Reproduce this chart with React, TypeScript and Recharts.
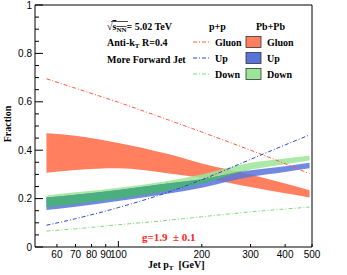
import React from 'react';
import {
  ComposedChart,
  Area,
  Line,
  XAxis,
  YAxis,
  ReferenceArea,
} from 'recharts';

// jet pT sample points (GeV)
const PT = [55, 70, 100, 150, 200, 300, 400, 490];

// p+p fractions
const GLUON_PP = [0.695, 0.656, 0.598, 0.527, 0.475, 0.4, 0.344, 0.303];
const UP_PP = [0.09, 0.117, 0.163, 0.225, 0.278, 0.362, 0.422, 0.463];
const DOWN_PP = [0.066, 0.075, 0.092, 0.11, 0.125, 0.145, 0.157, 0.165];

// Pb+Pb bands [low, high]
const GLUON_LO = [0.307, 0.318, 0.325, 0.305, 0.285, 0.248, 0.222, 0.205];
const GLUON_HI = [0.47, 0.46, 0.43, 0.385, 0.345, 0.3, 0.262, 0.235];
const UP_LO = [0.153, 0.166, 0.19, 0.22, 0.245, 0.29, 0.31, 0.325];
const UP_HI = [0.205, 0.216, 0.236, 0.262, 0.28, 0.317, 0.334, 0.348];
const DOWN_LO = [0.165, 0.178, 0.2, 0.232, 0.262, 0.32, 0.342, 0.357];
const DOWN_HI = [0.213, 0.226, 0.245, 0.273, 0.3, 0.348, 0.366, 0.377];

const X_TICKS = [60, 70, 80, 90, 100, 200, 300, 400, 500];
const Y_TICKS = [
  0, 0.05, 0.1, 0.15, 0.2, 0.25, 0.3, 0.35, 0.4, 0.45, 0.5, 0.55, 0.6, 0.65,
  0.7, 0.75, 0.8, 0.85, 0.9, 0.95, 1,
];
const Y_LABELS = [0, 0.2, 0.4, 0.6, 0.8, 1];

const data = PT.map((pt, i) => {
  const ovLo = Math.max(DOWN_LO[i], UP_LO[i]);
  const ovHi = Math.max(ovLo, Math.min(DOWN_HI[i], UP_HI[i]));
  return {
    pt,
    gPP: GLUON_PP[i],
    uPP: UP_PP[i],
    dPP: DOWN_PP[i],
    g: [GLUON_LO[i], GLUON_HI[i]],
    u: [UP_LO[i], UP_HI[i]],
    d: [DOWN_LO[i], DOWN_HI[i]],
    ov: [ovLo, ovHi],
  };
});

const SANS = 'Liberation Sans, Arial, sans-serif';
const SERIF = 'Liberation Serif, Times New Roman, serif';

const C_GLUON = '#ff7f5f';
const C_UP = '#5874da';
const C_DOWN = '#9be596';
const C_OVERLAP = '#4caf7f';

function XTick({ x, y, payload }: any) {
  const v = payload.value;
  const len = v === 100 ? 6 : 3;
  return (
    <g>
      <line x1={x} x2={x} y1={y} y2={y - len} stroke="#000" />
      <text x={x} y={y + 11} textAnchor="middle" fontSize={10} fontFamily={SANS}>
        {v}
      </text>
    </g>
  );
}

function YTickLeft({ x, y, payload }: any) {
  const v = payload.value;
  const major = Y_LABELS.some((m) => Math.abs(m - v) < 1e-6);
  return (
    <g>
      <line x1={x} x2={x + (major ? 8 : 4)} y1={y} y2={y} stroke="#000" />
      {major && (
        <text x={x - 3} y={y + 3.5} textAnchor="end" fontSize={10} fontFamily={SANS}>
          {v}
        </text>
      )}
    </g>
  );
}

function YTickRight({ x, y, payload }: any) {
  const v = payload.value;
  const major = Y_LABELS.some((m) => Math.abs(m - v) < 1e-6);
  return <line x1={x} x2={x - (major ? 8 : 4)} y1={y} y2={y} stroke="#000" />;
}

function Overlay() {
  const t = { fontFamily: SERIF, fontWeight: 700, fontSize: 10 } as const;
  const rows = [
    { name: 'Gluon', line: '#ff5a3a', box: C_GLUON, y: 42 },
    { name: 'Up', line: '#2a48d0', box: C_UP, y: 58 },
    { name: 'Down', line: '#7fdd7a', box: C_DOWN, y: 74 },
  ];
  return (
    <svg
      width={347}
      height={275}
      style={{ position: 'absolute', left: 0, top: 0, pointerEvents: 'none' }}
    >
      <text x={107} y={30} {...t}>
        √<tspan textDecoration="overline">s</tspan>
        <tspan fontSize={7} dy={2} textDecoration="overline">NN</tspan>
        <tspan dy={-2}>= 5.02 TeV</tspan>
      </text>
      <line x1={111} x2={128} y1={21.5} y2={21.5} stroke="#000" strokeWidth={0.7} />
      <text x={107} y={46} {...t}>
        Anti-k<tspan fontSize={7} dy={2}>T</tspan>
        <tspan dy={-2}> R=0.4</tspan>
      </text>
      <text x={107} y={63} {...t}>
        More Forward Jet
      </text>
      <text x={209} y={30} {...t}>p+p</text>
      <text x={256} y={30} {...t}>Pb+Pb</text>
      {rows.map((r) => (
        <g key={r.name}>
          <line
            x1={193}
            x2={210}
            y1={r.y}
            y2={r.y}
            stroke={r.line}
            strokeDasharray="4 2 1 2"
          />
          <text x={215} y={r.y + 3.5} {...t}>{r.name}</text>
          <rect x={246} y={r.y - 5.5} width={15} height={11} fill={r.box} stroke="#333" strokeWidth={0.8} />
          <text x={267} y={r.y + 3.5} {...t}>{r.name}</text>
        </g>
      ))}
      <text x={142} y={241} fontFamily={SERIF} fontWeight={700} fontSize={11} fill="#ff2020">
        {'g=1.9\u00a0\u00a0± 0.1'}
      </text>
      <text x={148} y={268} {...t}>
        Jet p<tspan fontSize={7} dy={2}>T</tspan>
        <tspan dy={-2}>{'\u00a0\u00a0[GeV]'}</tspan>
      </text>
      <text
        x={11}
        y={124}
        {...t}
        textAnchor="middle"
        transform="rotate(-90 11 124)"
      >
        Fraction
      </text>
    </svg>
  );
}

export default function App() {
  return (
    <div style={{ position: 'absolute', left: 0, top: 0, width: 347, height: 275, background: '#fff' }}>
      <ComposedChart
        width={347}
        height={275}
        data={data}
        margin={{ top: 5, right: 0, bottom: 0, left: 0 }}
      >
        <XAxis
          dataKey="pt"
          type="number"
          scale="log"
          domain={[50, 500]}
          allowDataOverflow
          ticks={X_TICKS}
          interval={0}
          height={28}
          tickSize={0}
          tickMargin={0}
          axisLine={false}
          tickLine={false}
          tick={<XTick />}
        />
        <YAxis
          yAxisId="l"
          type="number"
          domain={[0, 1]}
          ticks={Y_TICKS}
          interval={0}
          width={35}
          tickSize={0}
          tickMargin={0}
          axisLine={false}
          tickLine={false}
          tick={<YTickLeft />}
        />
        <YAxis
          yAxisId="r"
          orientation="right"
          type="number"
          domain={[0, 1]}
          ticks={Y_TICKS}
          interval={0}
          width={35}
          tickSize={0}
          tickMargin={0}
          axisLine={false}
          tickLine={false}
          tick={<YTickRight />}
        />
        <Area yAxisId="l" type="monotone" dataKey="g" fill={C_GLUON} fillOpacity={1} stroke="none" isAnimationActive={false} />
        <Area yAxisId="l" type="monotone" dataKey="d" fill={C_DOWN} fillOpacity={0.85} stroke="none" isAnimationActive={false} />
        <Area yAxisId="l" type="monotone" dataKey="u" fill={C_UP} fillOpacity={0.85} stroke="none" isAnimationActive={false} />
        <Area yAxisId="l" type="monotone" dataKey="ov" fill={C_OVERLAP} fillOpacity={1} stroke="none" isAnimationActive={false} />
        <Line yAxisId="l" type="monotone" dataKey="gPP" stroke="#ff5a3a" strokeWidth={1} strokeDasharray="4 2 1 2" dot={false} isAnimationActive={false} />
        <Line yAxisId="l" type="monotone" dataKey="uPP" stroke="#2a48d0" strokeWidth={1} strokeDasharray="4 2 1 2" dot={false} isAnimationActive={false} />
        <Line yAxisId="l" type="monotone" dataKey="dPP" stroke="#7fdd7a" strokeWidth={1} strokeDasharray="4 2 1 2" dot={false} isAnimationActive={false} />
        <ReferenceArea yAxisId="l" x1={50} x2={500} y1={0} y2={1} fill="none" stroke="#000" strokeWidth={1} ifOverflow="visible" />
      </ComposedChart>
      <Overlay />
    </div>
  );
}
